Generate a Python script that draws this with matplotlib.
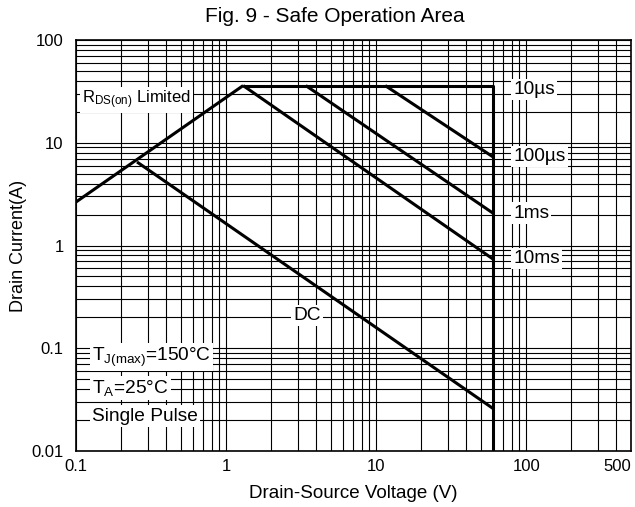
import matplotlib
matplotlib.use("Agg")
import matplotlib.pyplot as plt
from matplotlib.ticker import FixedLocator, LogLocator, NullFormatter

plt.rcParams['font.family'] = ['Liberation Sans', 'DejaVu Sans']
plt.rcParams['mathtext.fontset'] = 'custom'
plt.rcParams['mathtext.rm'] = 'Liberation Sans'
plt.rcParams['mathtext.it'] = 'Liberation Sans'

# SOA boundary data (V, A)
rds_v = [0.1, 1.3]
rds_i = [2.65, 36]
dc_v = [0.255, 60]
dc_i = [6.5, 0.026]
ms10_v = [1.3, 60]
ms10_i = [36, 0.74]
ms1_v = [3.4, 60]
ms1_i = [36, 2.07]
us100_v = [11.5, 60]
us100_i = [36, 7.3]
us10_v = [1.3, 60, 60]
us10_i = [36, 36, 0.01]

x_ticks = [0.1, 1, 10, 100, 500]
x_ticklabels = ['0.1', '1', '10', '100', '500']
y_ticks = [0.01, 0.1, 1, 10, 100]
y_ticklabels = ['0.01', '0.1', '1', '10', '100']

fig = plt.figure(figsize=(6.35, 5.07), dpi=100)
ax = fig.add_axes([76/635, 1-451/507, 555/635, 411/507])
ax.set_xscale('log')
ax.set_yscale('log')
ax.set_xlim(0.1, 500)
ax.set_ylim(0.01, 100)

ax.xaxis.set_major_locator(FixedLocator(x_ticks))
ax.set_xticklabels(x_ticklabels)
ax.yaxis.set_major_locator(FixedLocator(y_ticks))
ax.set_yticklabels(y_ticklabels)
ax.xaxis.set_minor_locator(LogLocator(base=10, subs=range(2, 10), numticks=20))
ax.yaxis.set_minor_locator(LogLocator(base=10, subs=range(2, 10), numticks=20))
ax.xaxis.set_minor_formatter(NullFormatter())
ax.yaxis.set_minor_formatter(NullFormatter())
ax.tick_params(which='both', length=0, labelsize=12)
ax.tick_params(axis='y', pad=9)
ax.tick_params(axis='x', pad=6)
ax.get_xticklabels()[-1].set_ha('right')
ax.grid(True, which='both', color='black', lw=0.8)
for s in ax.spines.values():
    s.set_linewidth(1.2)

lw = 2.2
kw = dict(color='black', lw=lw, solid_joinstyle='round', solid_capstyle='butt', zorder=3)
ax.plot(rds_v, rds_i, **kw)
ax.plot(dc_v, dc_i, **kw)
ax.plot(ms10_v, ms10_i, **kw)
ax.plot(ms1_v, ms1_i, **kw)
ax.plot(us100_v, us100_i, **kw)
ax.plot(us10_v, us10_i, **kw)

box = dict(facecolor='white', edgecolor='none', pad=1.5)
tkw = dict(fontsize=13.75, va='center', bbox=box, zorder=4)
ax.text(82, 33, '10µs', ha='left', **tkw)
ax.text(82, 7.4, '100µs', ha='left', **tkw)
ax.text(82, 2.07, '1ms', ha='left', **tkw)
ax.text(82, 0.75, '10ms', ha='left', **tkw)
ax.text(3.47, 0.21, 'DC', ha='center', **tkw)
ax.text(0.11, 26, r'R$_{\mathregular{DS(on)}}$ Limited', ha='left',
        fontsize=12, va='center', bbox=box, zorder=4)
ax.text(0.128, 0.082, r'T$_{\mathregular{J(max)}}$=150°C', ha='left', **tkw)
ax.text(0.128, 0.041, r'T$_{\mathregular{A}}$=25°C', ha='left', **tkw)
ax.text(0.128, 0.0219, 'Single Pulse', ha='left', **tkw)

ax.set_xlabel('Drain-Source Voltage (V)', fontsize=13.5, labelpad=8)
ax.set_ylabel('Drain Current(A)', fontsize=13, labelpad=3)
fig.text(335/635, 1-16/507, 'Fig. 9 - Safe Operation Area', fontsize=15,
         ha='center', va='center')

fig.savefig('out.png', dpi=100)
